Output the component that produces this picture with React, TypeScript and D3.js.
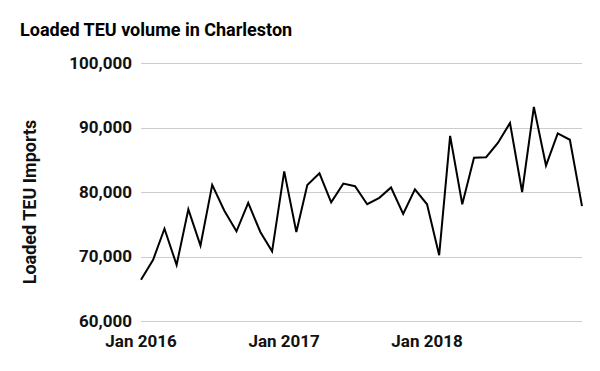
import { useEffect, useRef } from "react";
import * as d3 from "d3";

// monthly loaded TEU imports, Jan 2016 .. Feb 2019
const months: string[] = [
  "2016-01", "2016-02", "2016-03", "2016-04", "2016-05", "2016-06",
  "2016-07", "2016-08", "2016-09", "2016-10", "2016-11", "2016-12",
  "2017-01", "2017-02", "2017-03", "2017-04", "2017-05", "2017-06",
  "2017-07", "2017-08", "2017-09", "2017-10", "2017-11", "2017-12",
  "2018-01", "2018-02", "2018-03", "2018-04", "2018-05", "2018-06",
  "2018-07", "2018-08", "2018-09", "2018-10", "2018-11", "2018-12",
  "2019-01", "2019-02",
];
const teuImports: number[] = [
  66400, 69500, 74300, 68700, 77300, 71700, 81100, 77100, 73900, 78300, 73800, 70800,
  83200, 73800, 81100, 82900, 78400, 81300, 80900, 78100, 79100, 80700, 76600, 80400,
  78100, 70200, 88700, 78100, 85300, 85400, 87600, 90700, 80000, 93200, 84100, 89100,
  88100, 77800,
];
const yTicks: number[] = [60000, 70000, 80000, 90000, 100000];
const xTickMonths: string[] = ["2016-01", "2017-01", "2018-01"];

const title = "Loaded TEU volume in Charleston";
const yTitle = "Loaded TEU Imports";

const App = () => {
  const svgRef = useRef<SVGSVGElement>(null);

  const width = 600, height = 371;
  const margin = { top: 63, right: 18, bottom: 50, left: 141 };

  useEffect(() => {
    const svg = d3.select(svgRef.current);
    svg.selectAll("*").remove();

    const parse = d3.timeParse("%Y-%m");
    const data = months.map((m, i) => ({ date: parse(m) as Date, value: teuImports[i] }));

    const x = d3.scaleTime()
      .domain(d3.extent(data, d => d.date) as [Date, Date])
      .range([margin.left, width - margin.right]);
    const y = d3.scaleLinear()
      .domain([60000, 100000])
      .range([height - margin.bottom, margin.top]);

    const font = "Roboto, sans-serif";

    // title
    svg.append("text")
      .attr("x", 20)
      .attr("y", 36)
      .attr("font-family", font)
      .attr("font-weight", "bold")
      .attr("font-size", 18)
      .attr("fill", "#000")
      .text(title);

    // gridlines
    svg.append("g")
      .selectAll("line")
      .data(yTicks)
      .join("line")
      .attr("x1", margin.left)
      .attr("x2", width - margin.right)
      .attr("y1", d => Math.round(y(d)) + 0.5)
      .attr("y2", d => Math.round(y(d)) + 0.5)
      .attr("stroke", "#cccccc")
      .attr("stroke-width", 1);

    // y tick labels
    svg.append("g")
      .selectAll("text")
      .data(yTicks)
      .join("text")
      .attr("x", margin.left - 9)
      .attr("y", d => y(d))
      .attr("dy", "0.35em")
      .attr("text-anchor", "end")
      .attr("font-family", font)
      .attr("font-weight", "bold")
      .attr("font-size", 17)
      .attr("fill", "#111")
      .text(d => d3.format(",")(d));

    // x tick labels
    svg.append("g")
      .selectAll("text")
      .data(xTickMonths.map(m => parse(m) as Date))
      .join("text")
      .attr("x", d => x(d))
      .attr("y", 347)
      .attr("text-anchor", "middle")
      .attr("font-family", font)
      .attr("font-weight", "bold")
      .attr("font-size", 17)
      .attr("fill", "#111")
      .text(d => d3.timeFormat("%b %Y")(d));

    // y axis title
    svg.append("text")
      .attr("transform", `translate(30,${(margin.top + height - margin.bottom) / 2 + 10}) rotate(-90)`)
      .attr("dy", "0.35em")
      .attr("text-anchor", "middle")
      .attr("font-family", font)
      .attr("font-weight", "bold")
      .attr("font-size", 18)
      .attr("fill", "#111")
      .text(yTitle);

    // the line
    const line = d3.line<{ date: Date; value: number }>()
      .x(d => x(d.date))
      .y(d => y(d.value));

    svg.append("path")
      .datum(data)
      .attr("d", line)
      .attr("fill", "none")
      .attr("stroke", "#000")
      .attr("stroke-width", 2)
      .attr("stroke-linejoin", "miter");
  }, []);

  return (
    <svg
      ref={svgRef}
      width={width}
      height={height}
      style={{ position: "absolute", left: 0, top: 0, background: "#fff" }}
    />
  );
};

export default App;
